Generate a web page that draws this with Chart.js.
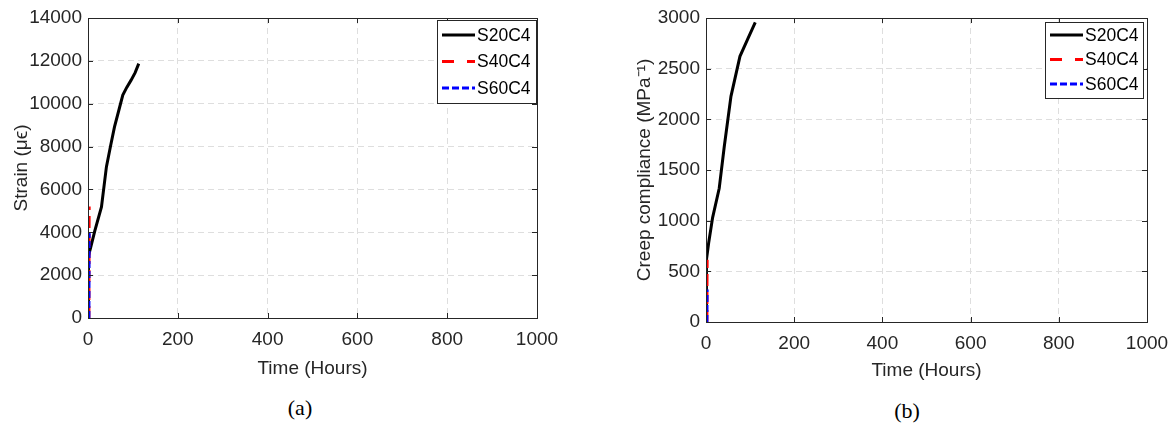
<!DOCTYPE html>
<html>
<head>
<meta charset="utf-8">
<script src="https://cdn.jsdelivr.net/npm/chart.js@4.4.1/dist/chart.umd.min.js"></script>
<style>
  body { margin: 0; background: #fff; width: 1174px; height: 431px; position: relative; overflow: hidden; }
  .panel { position: absolute; top: 0; height: 390px; }
  #boxA { left: 0; width: 560px; }
  #boxB { left: 580px; width: 594px; }
  .cap { position: absolute; font-family: 'Liberation Serif', 'DejaVu Serif', serif; font-size: 22px; color: #000; transform: translate(-50%, -50%); }
</style>
</head>
<body>
<div class="panel" id="boxA"><canvas id="chartA"></canvas></div>
<div class="panel" id="boxB"><canvas id="chartB"></canvas></div>
<div class="cap" style="left:300px; top:408px;">(a)</div>
<div class="cap" style="left:907px; top:411px;">(b)</div>
<script>
// shared
const labels = ['S20C4', 'S40C4', 'S60C4'];
const timeMax = 1000;

// (a) strain vs time
const s20TimeA = [0, 0.5, 1.5, 6, 15, 30, 41, 50, 59, 70, 77.5, 86, 96, 105, 113];
const s20StrainA = [0, 1200, 2900, 3300, 4050, 5180, 7050, 8000, 8920, 9800, 10400, 10750, 11100, 11450, 11870];
const s40TimeA = [2, 2.2, 2.4, 2.6];
const s40StrainA = [0, 2500, 4200, 5200];
const s60TimeA = [2, 2.2, 2.4, 2.6];
const s60StrainA = [0, 1500, 3000, 4000];

// (b) creep compliance vs time
const s20TimeB = [0, 0.5, 1.5, 6, 15, 30, 41.5, 56.6, 77, 94, 111.7];
const s20CompB = [0, 300, 615, 780, 1030, 1320, 1734, 2227, 2622, 2786, 2957];
const s40TimeB = [2, 2.2, 2.4, 2.6];
const s40CompB = [0, 300, 500, 615];
const s60TimeB = [2, 2.2, 2.4, 2.6];
const s60CompB = [0, 120, 250, 320];

const FONT = "'Liberation Sans', Arial, sans-serif";
const INK = '#262626';

function pts(xs, ys) {
  return xs.map((x, i) => ({ x: x, y: ys[i] }));
}

// MATLAB style box + inward ticks
const frame = {
  id: 'frame',
  afterDatasetsDraw(chart) {
    const { ctx, chartArea: a, scales: { x, y } } = chart;
    ctx.save();
    ctx.strokeStyle = INK;
    ctx.lineWidth = 1;
    ctx.beginPath();
    x.ticks.forEach(t => {
      const px = Math.round(x.getPixelForValue(t.value)) + 0.5;
      ctx.moveTo(px, a.bottom); ctx.lineTo(px, a.bottom - 5);
      ctx.moveTo(px, a.top); ctx.lineTo(px, a.top + 5);
    });
    y.ticks.forEach(t => {
      const py = Math.round(y.getPixelForValue(t.value)) + 0.5;
      ctx.moveTo(a.left, py); ctx.lineTo(a.left + 5, py);
      ctx.moveTo(a.right, py); ctx.lineTo(a.right - 5, py);
    });
    ctx.stroke();
    ctx.strokeRect(Math.round(a.left) + 0.5, Math.round(a.top) + 0.5, Math.round(a.right - a.left), Math.round(a.bottom - a.top));
    ctx.restore();
  }
};

// boxed legend in the upper right corner
const boxLegend = {
  id: 'boxLegend',
  afterDraw(chart, args, opts) {
    const { ctx, chartArea: a } = chart;
    const right = a.right - opts.inset;
    const left = right - opts.w;
    const top = a.top + opts.top;
    ctx.save();
    ctx.fillStyle = '#fff';
    ctx.fillRect(left, top, opts.w, opts.h);
    ctx.strokeStyle = INK;
    ctx.lineWidth = 1;
    ctx.strokeRect(Math.round(left) + 0.5, Math.round(top) + 0.5, opts.w, opts.h);
    chart.data.datasets.forEach((ds, i) => {
      const yy = top + opts.first + i * opts.gap;
      ctx.beginPath();
      ctx.strokeStyle = ds.borderColor;
      ctx.lineWidth = 3;
      ctx.setLineDash(opts.dashes[i]);
      ctx.moveTo(left + 5, yy);
      ctx.lineTo(left + 38, yy);
      ctx.stroke();
      ctx.setLineDash([]);
      ctx.fillStyle = '#000';
      ctx.font = opts.size + 'px ' + FONT;
      ctx.textBaseline = 'middle';
      ctx.fillText(ds.label, left + 40, yy + 1);
    });
    ctx.restore();
  }
};

function makeChart(id, series, yMax, yStep, yTitle, geo) {
  return new Chart(document.getElementById(id), {
    type: 'line',
    data: {
      datasets: [
        { label: labels[0], data: series[0], borderColor: '#000000', borderWidth: 3, pointRadius: 0, fill: false, order: 3 },
        { label: labels[1], data: series[1], borderColor: '#ff0000', borderWidth: 3, borderDash: [12, 6], pointRadius: 0, fill: false, order: 2 },
        { label: labels[2], data: series[2], borderColor: '#0000ff', borderWidth: 3, borderDash: [7, 3], pointRadius: 0, fill: false, order: 1 },
      ],
    },
    options: {
      responsive: true,
      maintainAspectRatio: false,
      animation: false,
      layout: { padding: { top: 18, right: geo.padRight, left: 0, bottom: 0 } },
      scales: {
        x: {
          type: 'linear',
          min: 0,
          max: timeMax,
          afterFit: s => { s.height = geo.xHeight; s.paddingRight = 0; s.paddingLeft = 0; },
          ticks: { stepSize: 200, color: INK, padding: 10, maxRotation: 0, font: { family: FONT, size: 19 }, callback: v => String(v) },
          grid: { color: '#dedede', drawTicks: false },
          border: { display: false, dash: [6, 4] },
          title: { display: true, text: 'Time (Hours)', color: INK, font: { family: FONT, size: 19 }, padding: { bottom: geo.xTitlePad } },
        },
        y: {
          min: 0,
          max: yMax,
          afterFit: s => { s.width = geo.yWidth; },
          ticks: { stepSize: yStep, color: INK, padding: 6, font: { family: FONT, size: 19 }, callback: v => String(v) },
          grid: { color: '#dedede', drawTicks: false },
          border: { display: false, dash: [6, 4] },
          title: { display: true, text: yTitle, color: INK, font: { family: FONT, size: 19 }, padding: { top: geo.yTitlePad } },
        },
      },
      plugins: {
        legend: { display: false },
        tooltip: { enabled: false },
        boxLegend: geo.legend,
      },
    },
    plugins: [frame, boxLegend],
  });
}

makeChart('chartA',
  [pts(s20TimeA, s20StrainA), pts(s40TimeA, s40StrainA), pts(s60TimeA, s60StrainA)],
  14000, 2000, 'Strain (\u03bc\u03f5)',
  { padRight: 23, xHeight: 72, yWidth: 88, xTitlePad: 9.6, yTitlePad: 10.6,
    legend: { inset: 1, top: 2, w: 99, h: 83, first: 15, gap: 26.5, size: 17.5, dashes: [[], [12, 13], [7, 3]] } });

makeChart('chartB',
  [pts(s20TimeB, s20CompB), pts(s40TimeB, s40CompB), pts(s60TimeB, s60CompB)],
  3000, 500, 'Creep compliance (MPa\u207b\u00b9)',
  { padRight: 27, xHeight: 68, yWidth: 126, xTitlePad: 7.6, yTitlePad: 53.6,
    legend: { inset: 4, top: 4, w: 98, h: 76, first: 13, gap: 24.5, size: 17.5, dashes: [[], [12, 13], [7, 3]] } });
</script>
</body>
</html>
